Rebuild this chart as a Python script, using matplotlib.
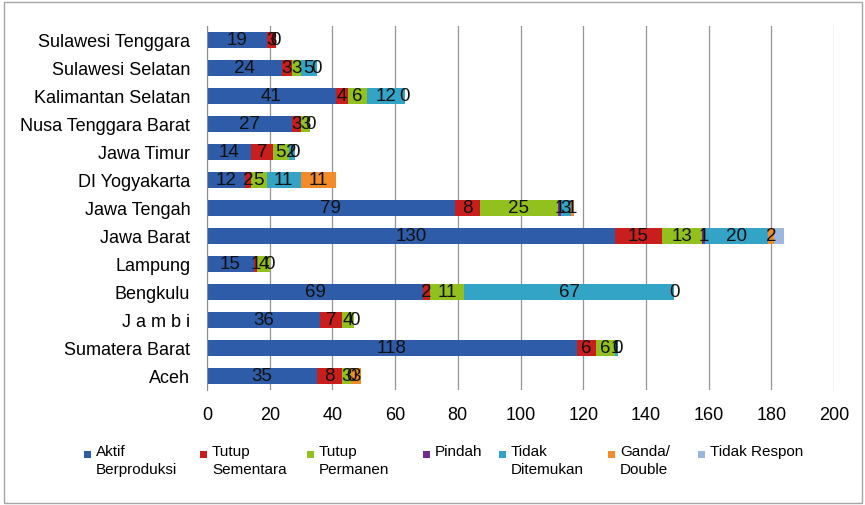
import numpy as np
import matplotlib.pyplot as plt
from matplotlib.patches import Rectangle

plt.rcParams['font.family'] = ['Liberation Sans', 'DejaVu Sans']

# Categories, bottom to top as drawn
provinces = ['Aceh', 'Sumatera Barat', 'J a m b i', 'Bengkulu', 'Lampung',
             'Jawa Barat', 'Jawa Tengah', 'DI Yogyakarta', 'Jawa Timur',
             'Nusa Tenggara Barat', 'Kalimantan Selatan', 'Sulawesi Selatan',
             'Sulawesi Tenggara']

N = None  # blank cell (no segment, no label)
aktif     = [35, 118, 36, 69, 15, 130, 79, 12, 14, 27, 41, 24, 19]
tutup_sem = [8, 6, 7, 2, 1, 15, 8, 2, 7, 3, 4, 3, 3]
tutup_per = [3, 6, 4, 11, 4, 13, 25, 5, 5, 3, 6, 3, 0]
pindah    = [0, N, N, N, N, 1, 1, N, N, N, N, N, N]
tidak_dit = [N, 1, 0, 67, 0, 20, 3, 11, 2, 0, 12, 5, N]
ganda     = [3, 0, N, 0, N, 2, 1, 11, 0, N, 0, 0, N]
tidak_res = [N, N, N, N, N, 3, N, N, N, N, N, N, N]

series = [aktif, tutup_sem, tutup_per, pindah, tidak_dit, ganda, tidak_res]
names = ['Aktif\nBerproduksi', 'Tutup\nSementara', 'Tutup\nPermanen', 'Pindah',
         'Tidak\nDitemukan', 'Ganda/\nDouble', 'Tidak Respon']
colors = ['#2E5CA8', '#C81E1E', '#92C01E', '#6F2D91', '#33A3C6', '#F28C28', '#9BB7E0']
show_labels = [True, True, True, True, True, True, False]

fig = plt.figure(figsize=(8.65, 5.05), dpi=100)
ax = fig.add_axes([0.2393, 0.2277, 0.7249, 0.7208])

y = np.arange(len(provinces))
left = np.zeros(len(provinces))
for vals, c, lab in zip(series, colors, show_labels):
    v = np.array([0 if x is None else x for x in vals], dtype=float)
    bars = ax.barh(y, v, left=left, height=0.56, color=c, edgecolor='none', zorder=2)
    if lab:
        txt = ['' if x is None else str(x) for x in vals]
        ax.bar_label(bars, labels=txt, label_type='center', fontsize=13.5,
                     color='#111111', zorder=3)
    left += v

ax.set_xlim(0, 200)
ax.set_xticks(np.arange(0, 201, 20))
ax.set_ylim(-0.5, len(provinces) - 0.5)
ax.set_yticks(y)
ax.set_yticklabels(provinces)
ax.tick_params(axis='both', length=0, labelsize=13)
ax.tick_params(axis='x', pad=12)
ax.tick_params(axis='y', pad=12)
ax.grid(axis='x', color='#959595', linewidth=0.9, zorder=0)
ax.set_axisbelow(True)
for s in ['top', 'right', 'bottom']:
    ax.spines[s].set_visible(False)
ax.spines['left'].set_color('#8c8c8c')

# Legend drawn by hand so the square sits beside the first line
sq_x = [84, 200, 307, 423, 499, 608, 698]
W, H = 865.0, 505.0
for sx, c, name in zip(sq_x, colors, names):
    fig.add_artist(Rectangle((sx / W, (H - 458) / H), 7 / W, 7 / H,
                             transform=fig.transFigure, facecolor=c, edgecolor='none'))
    fig.text((sx + 12) / W, (H - 445) / H, name, ha='left', va='top',
             fontsize=11, linespacing=1.38,
             family=['Liberation Sans Narrow', 'Liberation Sans', 'DejaVu Sans'])

fig.add_artist(Rectangle((0.005, 0.004), 0.992, 0.993, transform=fig.transFigure,
                         fill=False, edgecolor='#a6a6a6', linewidth=1))

fig.savefig('out.png', dpi=100)
